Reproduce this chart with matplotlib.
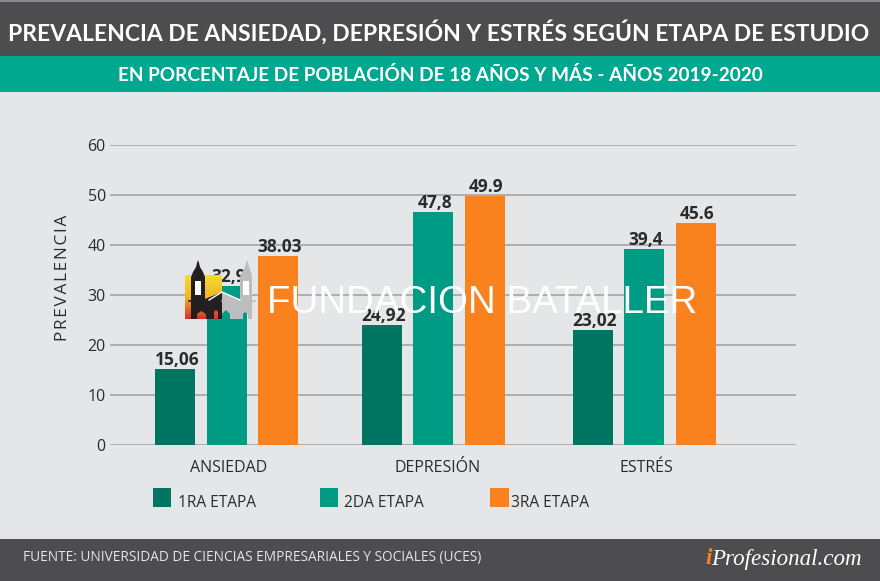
import numpy as np
import matplotlib
matplotlib.use("Agg")
from matplotlib import pyplot as plt
from matplotlib.colors import LinearSegmentedColormap
from matplotlib.patches import Polygon, Rectangle

plt.rcParams['font.family'] = ['Open Sans', 'DejaVu Sans']

categories = ['ANSIEDAD', 'DEPRESIÓN', 'ESTRÉS']
series_names = ['1RA ETAPA', '2DA ETAPA', '3RA ETAPA']
# alturas leidas de las barras (no siempre coinciden con la etiqueta)
etapa1 = [15.2, 24.0, 23.0]
etapa2 = [31.9, 46.6, 39.2]
etapa3 = [37.8, 49.8, 44.4]
etiquetas1 = ['15,06', '24,92', '23,02']
etiquetas2 = ['32,9', '47,8', '39,4']
etiquetas3 = ['38.03', '49.9', '45.6']
yticks = [0, 10, 20, 30, 40, 50, 60]

colores = ['#007561', '#009B85', '#F9821E']
texto = '#2b2b2e'
W, H = 880, 581

fig = plt.figure(figsize=(W / 100, H / 100), dpi=100, facecolor='#E5E6E8')


def ajustar(t, ancho_px):
    # deja el texto con el ancho medido en la referencia
    ext = t.get_window_extent(fig.canvas.get_renderer())
    t.set_fontsize(t.get_fontsize() * ancho_px / ext.width)


# capa de fondo en pixeles
bg = fig.add_axes([0, 0, 1, 1], zorder=0)
bg.set_xlim(0, W)
bg.set_ylim(H, 0)
bg.axis('off')
bg.add_patch(Rectangle((0, 0), W, 55.5, color='#4D4D4F', lw=0))
bg.add_patch(Rectangle((0, 0), W, 1.5, color='#8a8a8a', lw=0))
bg.add_patch(Rectangle((0, 55.5), W, 36, color='#00A88F', lw=0))
bg.add_patch(Rectangle((0, 539), W, 42, color='#4D4D4F', lw=0))
titulo = bg.text(439, 32, 'PREVALENCIA DE ANSIEDAD, DEPRESIÓN Y ESTRÉS SEGÚN ETAPA DE ESTUDIO',
                 color='white', fontsize=18, fontweight='bold', family='Lato', ha='center', va='center')
ajustar(titulo, 862)
sub = bg.text(440, 75, 'EN PORCENTAJE DE POBLACIÓN DE 18 AÑOS Y MÁS - AÑOS 2019-2020',
              color='white', fontsize=14, fontweight='bold', family='Lato', ha='center', va='center')
ajustar(sub, 649)
fuente = bg.text(23, 558, 'FUENTE: UNIVERSIDAD DE CIENCIAS EMPRESARIALES Y SOCIALES (UCES)',
                 color='#E5E6E8', fontsize=9.65, ha='left', va='center')
ajustar(fuente, 453)
bg.text(705, 559, 'i', color='#F9821E', fontsize=16.6, family='Liberation Serif',
        style='italic', fontweight='bold', ha='left', va='center')
bg.text(711, 559, 'Profesional.com', color='white', fontsize=16.6, family='Liberation Serif',
        style='italic', ha='left', va='center')

# grafico: 0 en y=445 y 60 en y=145
x0, x1 = 110, 796
ax = fig.add_axes([x0 / W, 1 - 445 / H, (x1 - x0) / W, 300 / H], zorder=1)
ax.patch.set_alpha(0)
ax.set_xlim(x0, x1)
ax.set_ylim(0, 60)
for s in ax.spines.values():
    s.set_visible(False)
ax.set_yticks(yticks)
ax.yaxis.grid(True, color='#a9aaac', lw=1.3)
ax.set_axisbelow(True)
ax.tick_params(axis='y', length=0, pad=3, labelsize=11.5, labelcolor=texto)
ax.tick_params(axis='x', length=0, pad=11, labelsize=11.5, labelcolor=texto)

centros = np.array([226.5, 433, 644])
desplaz = [-51.5, 0, 51.5]
ancho = 40
grupos = [(etapa1, etiquetas1), (etapa2, etiquetas2), (etapa3, etiquetas3)]
for i, (vals, etqs) in enumerate(grupos):
    xs = centros + desplaz[i]
    ax.bar(xs, vals, ancho, color=colores[i], clip_on=False, zorder=3)
    for x, v, e in zip(xs, vals, etqs):
        ax.annotate(e, (x + 2, v), xytext=(0, 0), textcoords='offset points',
                    ha='center', va='bottom', fontsize=12.5, fontweight='bold',
                    color=texto, zorder=4)

ax.set_xticks(centros + [2.5, 4.5, 2.5])
ax.set_xticklabels(categories)
bg.text(63, 278, 'PREVALENCIA'.replace('', '\u200a').strip(), rotation=90, fontsize=12.3,
        color=texto, ha='center', va='center')

# leyenda
ley = fig.add_axes([0, 0, 1, 1], zorder=2)
ley.set_xlim(0, W)
ley.set_ylim(H, 0)
ley.axis('off')
for px, tx, c, nombre in zip([152.5, 319.5, 490], [178, 344.5, 511], colores, series_names):
    ley.add_patch(Rectangle((px, 488), 18.5, 19, color=c, lw=0))
    ley.text(tx, 503, nombre, fontsize=11.2, color=texto, ha='left', va='center')

# marca de agua
grad = LinearSegmentedColormap.from_list('logo', ['#F4DC2E', '#F0B526', '#D2322A'])
ley.imshow(np.linspace(0, 1, 64).reshape(-1, 1), cmap=grad, aspect='auto',
           extent=(185, 222, 319, 275), zorder=3)
ley.set_xlim(0, W)
ley.set_ylim(H, 0)
negro = [(191, 319), (191, 277), (193, 272), (196, 267), (197, 263), (198, 260), (199, 263),
         (200, 267), (203, 272), (205, 277), (205, 299), (222, 292), (222, 319), (218, 319),
         (218, 312), (216, 310), (214, 312), (214, 319), (206, 319), (206, 314), (201, 311),
         (197, 314), (197, 319)]
gris = [(222, 292), (240, 300), (240, 277), (242, 272), (245, 267), (246, 263), (247, 260),
        (248, 263), (249, 267), (251, 272), (252, 277), (252, 319), (248, 319), (248, 314),
        (245, 312), (243, 314), (243, 319), (230, 319), (230, 314), (226, 310), (222, 314)]
ley.add_patch(Polygon(negro, closed=True, color='#231F20', lw=0, zorder=4))
ley.add_patch(Polygon(gris, closed=True, color='#BDBDBD', lw=0, zorder=4))
ley.add_patch(Rectangle((195, 281), 6, 14, color='white', lw=0, zorder=5))
ley.add_patch(Rectangle((243, 281), 6, 14, color='white', lw=0, zorder=5))
ley.plot([209, 222, 240], [300, 292, 300], color='white', lw=1, zorder=5)
ley.plot([189, 222], [301, 301], color='#231F20', lw=1.2, zorder=4)
ley.plot([222, 255], [301, 301], color='#BDBDBD', lw=1.2, zorder=4)
ley.text(267, 303, 'FUNDACION BATALLER', color='white', fontsize=27.7,
         family='Liberation Sans', ha='left', va='center', zorder=6)

fig.savefig('out.png', dpi=100, facecolor=fig.get_facecolor())
